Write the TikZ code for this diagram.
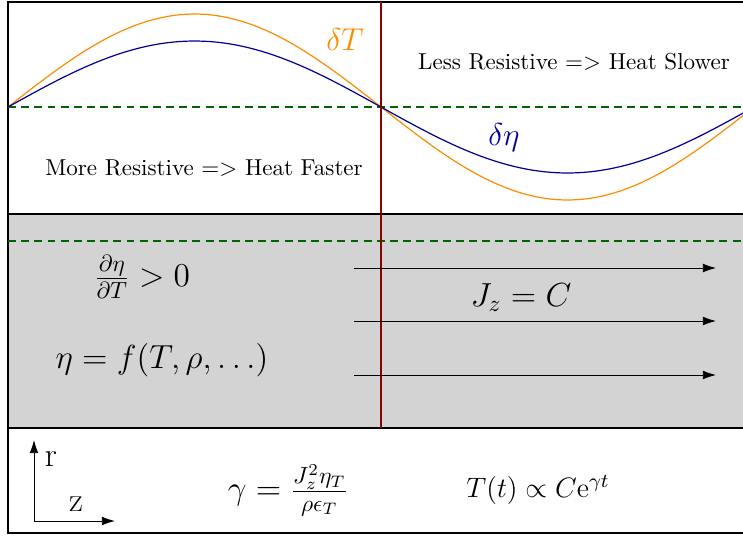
\RequirePackage{fix-cm}
\documentclass[tikz,border=0pt]{standalone}
\usepackage{amsmath,amssymb}
\usepackage{tikz}
\usetikzlibrary{positioning,arrows.meta}
\definecolor{dgreen}{RGB}{0,100,0}
\definecolor{dred}{RGB}{139,0,0}
\definecolor{dorange}{RGB}{255,140,0}
\definecolor{dnavy}{RGB}{0,0,150}
\definecolor{lgray}{RGB}{211,211,211}
\tikzset{
  zone/.style={draw=black, line width=0.8pt},
  midline/.style={dgreen, line width=0.7pt, dash pattern=on 3.6pt off 2.4pt},
  wave/.style={line width=0.55pt, domain=8:760, samples=120},
  jarr/.style={-{Latex[length=6pt,width=4pt]}, thin},
  lbl/.style={font=\fontsize{15.2}{18}\selectfont},
  smlbl/.style={font=\fontsize{12.8}{15}\selectfont},
  txt/.style={font=\fontsize{10.5}{12.6}\selectfont},
  axlbl/.style={font=\fontsize{15.5}{18}\selectfont},
  pxgrid/.style={x=0.016cm, y=-0.016cm}
}

\begin{document}
\begin{tikzpicture}[pxgrid]
  \clip (0,0) rectangle (743,535);
  % three zones
  \draw[zone] (8,2) rectangle (760,214);
  \draw[zone, fill=lgray] (8,214) rectangle (760,428);
  \draw[zone] (8,428) rectangle (760,533);
  % unperturbed lines
  \draw[midline] (8,107) -- (760,107);
  \draw[midline] (8,241) -- (760,241);
  % perturbations
  \draw[wave, dorange] plot (\x, {107-93*sin((\x-8)/746*360)});
  \draw[wave, dnavy] plot (\x, {107-66*sin((\x-8)/746*360)});
  \draw[dred, thick] (381,2) -- (381,428);
  \node[font=\Large, text=dorange] (dT) at (345,40) {$\delta T$};
  \node[font=\Large, text=dnavy] (deta) at (504,138) {$\delta\eta$};
  \node[txt] (faster) at (204,168) {More Resistive =$>$ Heat Faster};
  \node[txt] (slower) at (574,62) {Less Resistive =$>$ Heat Slower};
  % current
  \node[lbl] (deriv) at (142,277) {$\frac{\partial\eta}{\partial T} > 0$};
  \node[lbl] (etaf) at (162,360) {$\eta = f(T,\rho,\ldots)$};
  \node[lbl] (jz) at (521,298) {$J_z = C$};
  \foreach \i/\y in {1/268, 2/321, 3/375} {
    \coordinate (js\i) at (354,\y);
    \coordinate (je\i) at (716,\y);
    \draw[jarr] (js\i) -- (je\i);
  }
  % axes and growth rate
  \coordinate (o) at (34,521);
  \coordinate (rtip) at (34,440);
  \coordinate (ztip) at (115,521);
  \draw[jarr] (o) -- (rtip);
  \draw[jarr] (o) -- (ztip);
  \node[axlbl] (r) at (51,459) {r};
  \node[axlbl] (z) at (76,504) {z};
  \node[lbl] (gam) at (288,490) {$\gamma = \frac{J_z^2\eta_T}{\rho\epsilon_T}$};
  \node[smlbl] (grow) at (538,490) {$T(t) \propto C\mathrm{e}^{\gamma t}$};
\end{tikzpicture}
\end{document}
